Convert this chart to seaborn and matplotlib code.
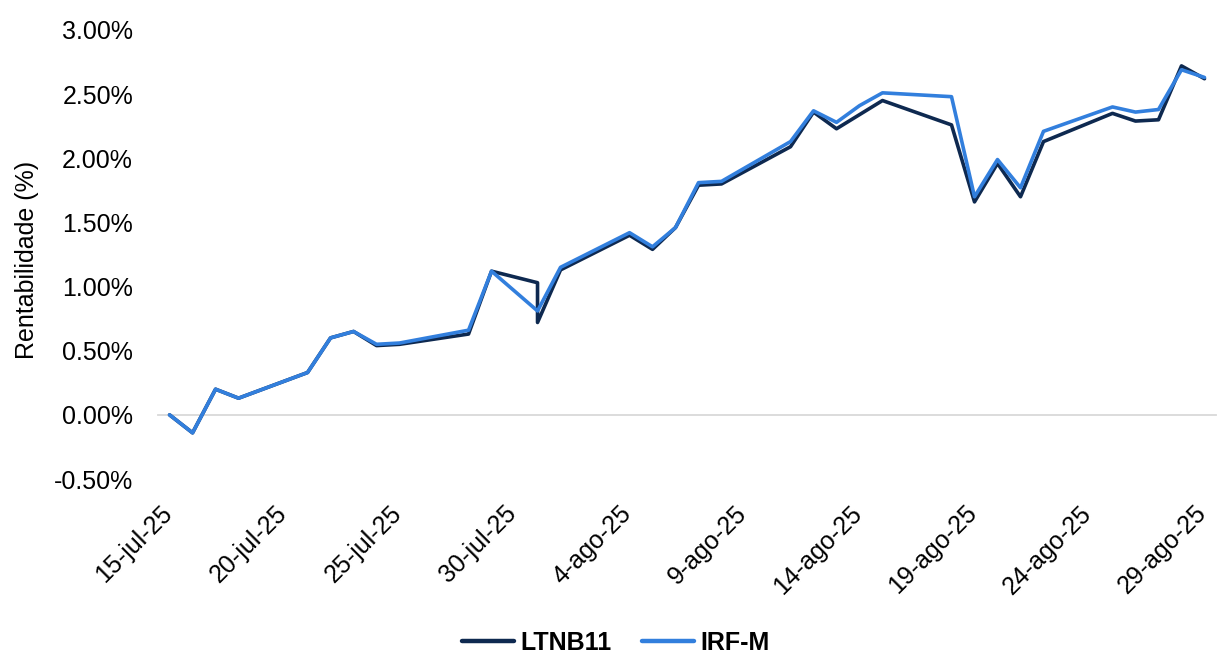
import matplotlib
matplotlib.use("Agg")
import matplotlib.pyplot as plt
import matplotlib.transforms as mtransforms
import matplotlib.dates as mdates
import pandas as pd
import seaborn as sns

# data (cumulative return, %)
ltnb11_dates = [
    "2025-07-15", "2025-07-16", "2025-07-17", "2025-07-18", "2025-07-21",
    "2025-07-22", "2025-07-23", "2025-07-24", "2025-07-25", "2025-07-28",
    "2025-07-29", "2025-07-31", "2025-07-31", "2025-08-01", "2025-08-04",
    "2025-08-05", "2025-08-06", "2025-08-07", "2025-08-08", "2025-08-11",
    "2025-08-12", "2025-08-13", "2025-08-14", "2025-08-15", "2025-08-18",
    "2025-08-19", "2025-08-20", "2025-08-21", "2025-08-22", "2025-08-25",
    "2025-08-26", "2025-08-27", "2025-08-28", "2025-08-29",
]
ltnb11_values = [
    0.00, -0.14, 0.20, 0.13, 0.33,
    0.60, 0.65, 0.54, 0.55, 0.63,
    1.12, 1.03, 0.72, 1.13, 1.40,
    1.29, 1.46, 1.79, 1.80, 2.09,
    2.36, 2.23, 2.34, 2.45, 2.26,
    1.66, 1.96, 1.70, 2.13, 2.35,
    2.29, 2.30, 2.72, 2.62,
]
irfm_dates = [
    "2025-07-15", "2025-07-16", "2025-07-17", "2025-07-18", "2025-07-21",
    "2025-07-22", "2025-07-23", "2025-07-24", "2025-07-25", "2025-07-28",
    "2025-07-29", "2025-07-31", "2025-08-01", "2025-08-04",
    "2025-08-05", "2025-08-06", "2025-08-07", "2025-08-08", "2025-08-11",
    "2025-08-12", "2025-08-13", "2025-08-14", "2025-08-15", "2025-08-18",
    "2025-08-19", "2025-08-20", "2025-08-21", "2025-08-22", "2025-08-25",
    "2025-08-26", "2025-08-27", "2025-08-28", "2025-08-29",
]
irfm_values = [
    0.00, -0.14, 0.20, 0.13, 0.33,
    0.60, 0.65, 0.55, 0.56, 0.66,
    1.12, 0.81, 1.15, 1.42,
    1.31, 1.46, 1.81, 1.82, 2.13,
    2.37, 2.28, 2.41, 2.51, 2.48,
    1.70, 1.99, 1.77, 2.21, 2.40,
    2.36, 2.38, 2.69, 2.63,
]
series_names = ["LTNB11", "IRF-M"]
tick_dates = ["2025-07-15", "2025-07-20", "2025-07-25", "2025-07-30", "2025-08-04",
              "2025-08-09", "2025-08-14", "2025-08-19", "2025-08-24", "2025-08-29"]
tick_labels = ["15-jul-25", "20-jul-25", "25-jul-25", "30-jul-25", "4-ago-25",
               "9-ago-25", "14-ago-25", "19-ago-25", "24-ago-25", "29-ago-25"]
y_ticks = [-0.5, 0.0, 0.5, 1.0, 1.5, 2.0, 2.5, 3.0]

df = pd.concat([
    pd.DataFrame({"data": pd.to_datetime(ltnb11_dates), "valor": ltnb11_values, "serie": series_names[0]}),
    pd.DataFrame({"data": pd.to_datetime(irfm_dates), "valor": irfm_values, "serie": series_names[1]}),
], ignore_index=True)
# excel date axis puts each point in the middle of its day
df["data"] = df["data"] + pd.Timedelta(hours=12)

sns.set_style("white")
plt.rcParams["font.family"] = ["Liberation Sans", "DejaVu Sans"]
for key in ["text.color", "axes.labelcolor", "xtick.labelcolor", "ytick.labelcolor"]:
    plt.rcParams[key] = "black"

fs = 18
lw = 2.6
fig = plt.figure(figsize=(12.31, 6.63), dpi=100)
ax = fig.add_axes([0.1284, 0.2775, 0.8594, 0.6773])

palette = {"LTNB11": "#0E2950", "IRF-M": "#327FDD"}
sns.lineplot(data=df, x="data", y="valor", hue="serie", palette=palette,
             estimator=None, sort=False, linewidth=lw, ax=ax, zorder=3,
             legend=True)

ax.set_xlim(pd.Timestamp("2025-07-15"), pd.Timestamp("2025-08-30"))
ax.set_ylim(-0.5, 3.0)
ax.set_yticks(y_ticks)
ax.set_yticklabels([f"{v:.2f}%" for v in y_ticks], fontsize=fs, color="black")
ax.tick_params(axis="y", length=0, pad=18)

for side in ["top", "right", "left"]:
    ax.spines[side].set_visible(False)
# category axis crosses at zero, labels stay low
ax.spines["bottom"].set_position(("data", 0))
ax.spines["bottom"].set_color("#D9D9D9")
ax.spines["bottom"].set_linewidth(1.3)

tick_pos = mdates.date2num(pd.to_datetime(tick_dates))
ax.set_xticks(tick_pos)
ax.tick_params(axis="x", direction="out", length=6, width=1.3, color="#D9D9D9",
               labelbottom=False)

sec = ax.secondary_xaxis("bottom")
sec.set_xticks(tick_pos)
sec.set_xticklabels(tick_labels, fontsize=fs, rotation=45, ha="right",
                    va="center", rotation_mode="anchor", color="black")
sec.tick_params(axis="x", length=0, pad=22)
sec.spines["bottom"].set_visible(False)
offset = mtransforms.ScaledTranslation(0.10, 0, fig.dpi_scale_trans)
for lbl in sec.get_xticklabels():
    lbl.set_transform(lbl.get_transform() + offset)

ax.set_xlabel("")
ax.set_ylabel("Rentabilidade (%)", fontsize=fs, color="black")
ax.yaxis.set_label_coords(-0.113, 0.487)

handles, labels = ax.get_legend_handles_labels()
ax.get_legend().remove()
leg = fig.legend(handles, labels, loc="center", bbox_to_anchor=(0.5, 0.030),
                 ncol=2, frameon=False, handlelength=2.1, columnspacing=1.2,
                 handletextpad=0.25, prop={"size": fs, "weight": "bold"})
for t in leg.get_texts():
    t.set_color("black")
for h in leg.legend_handles:
    h.set_linewidth(3.2)

fig.savefig("out.png", dpi=100)
